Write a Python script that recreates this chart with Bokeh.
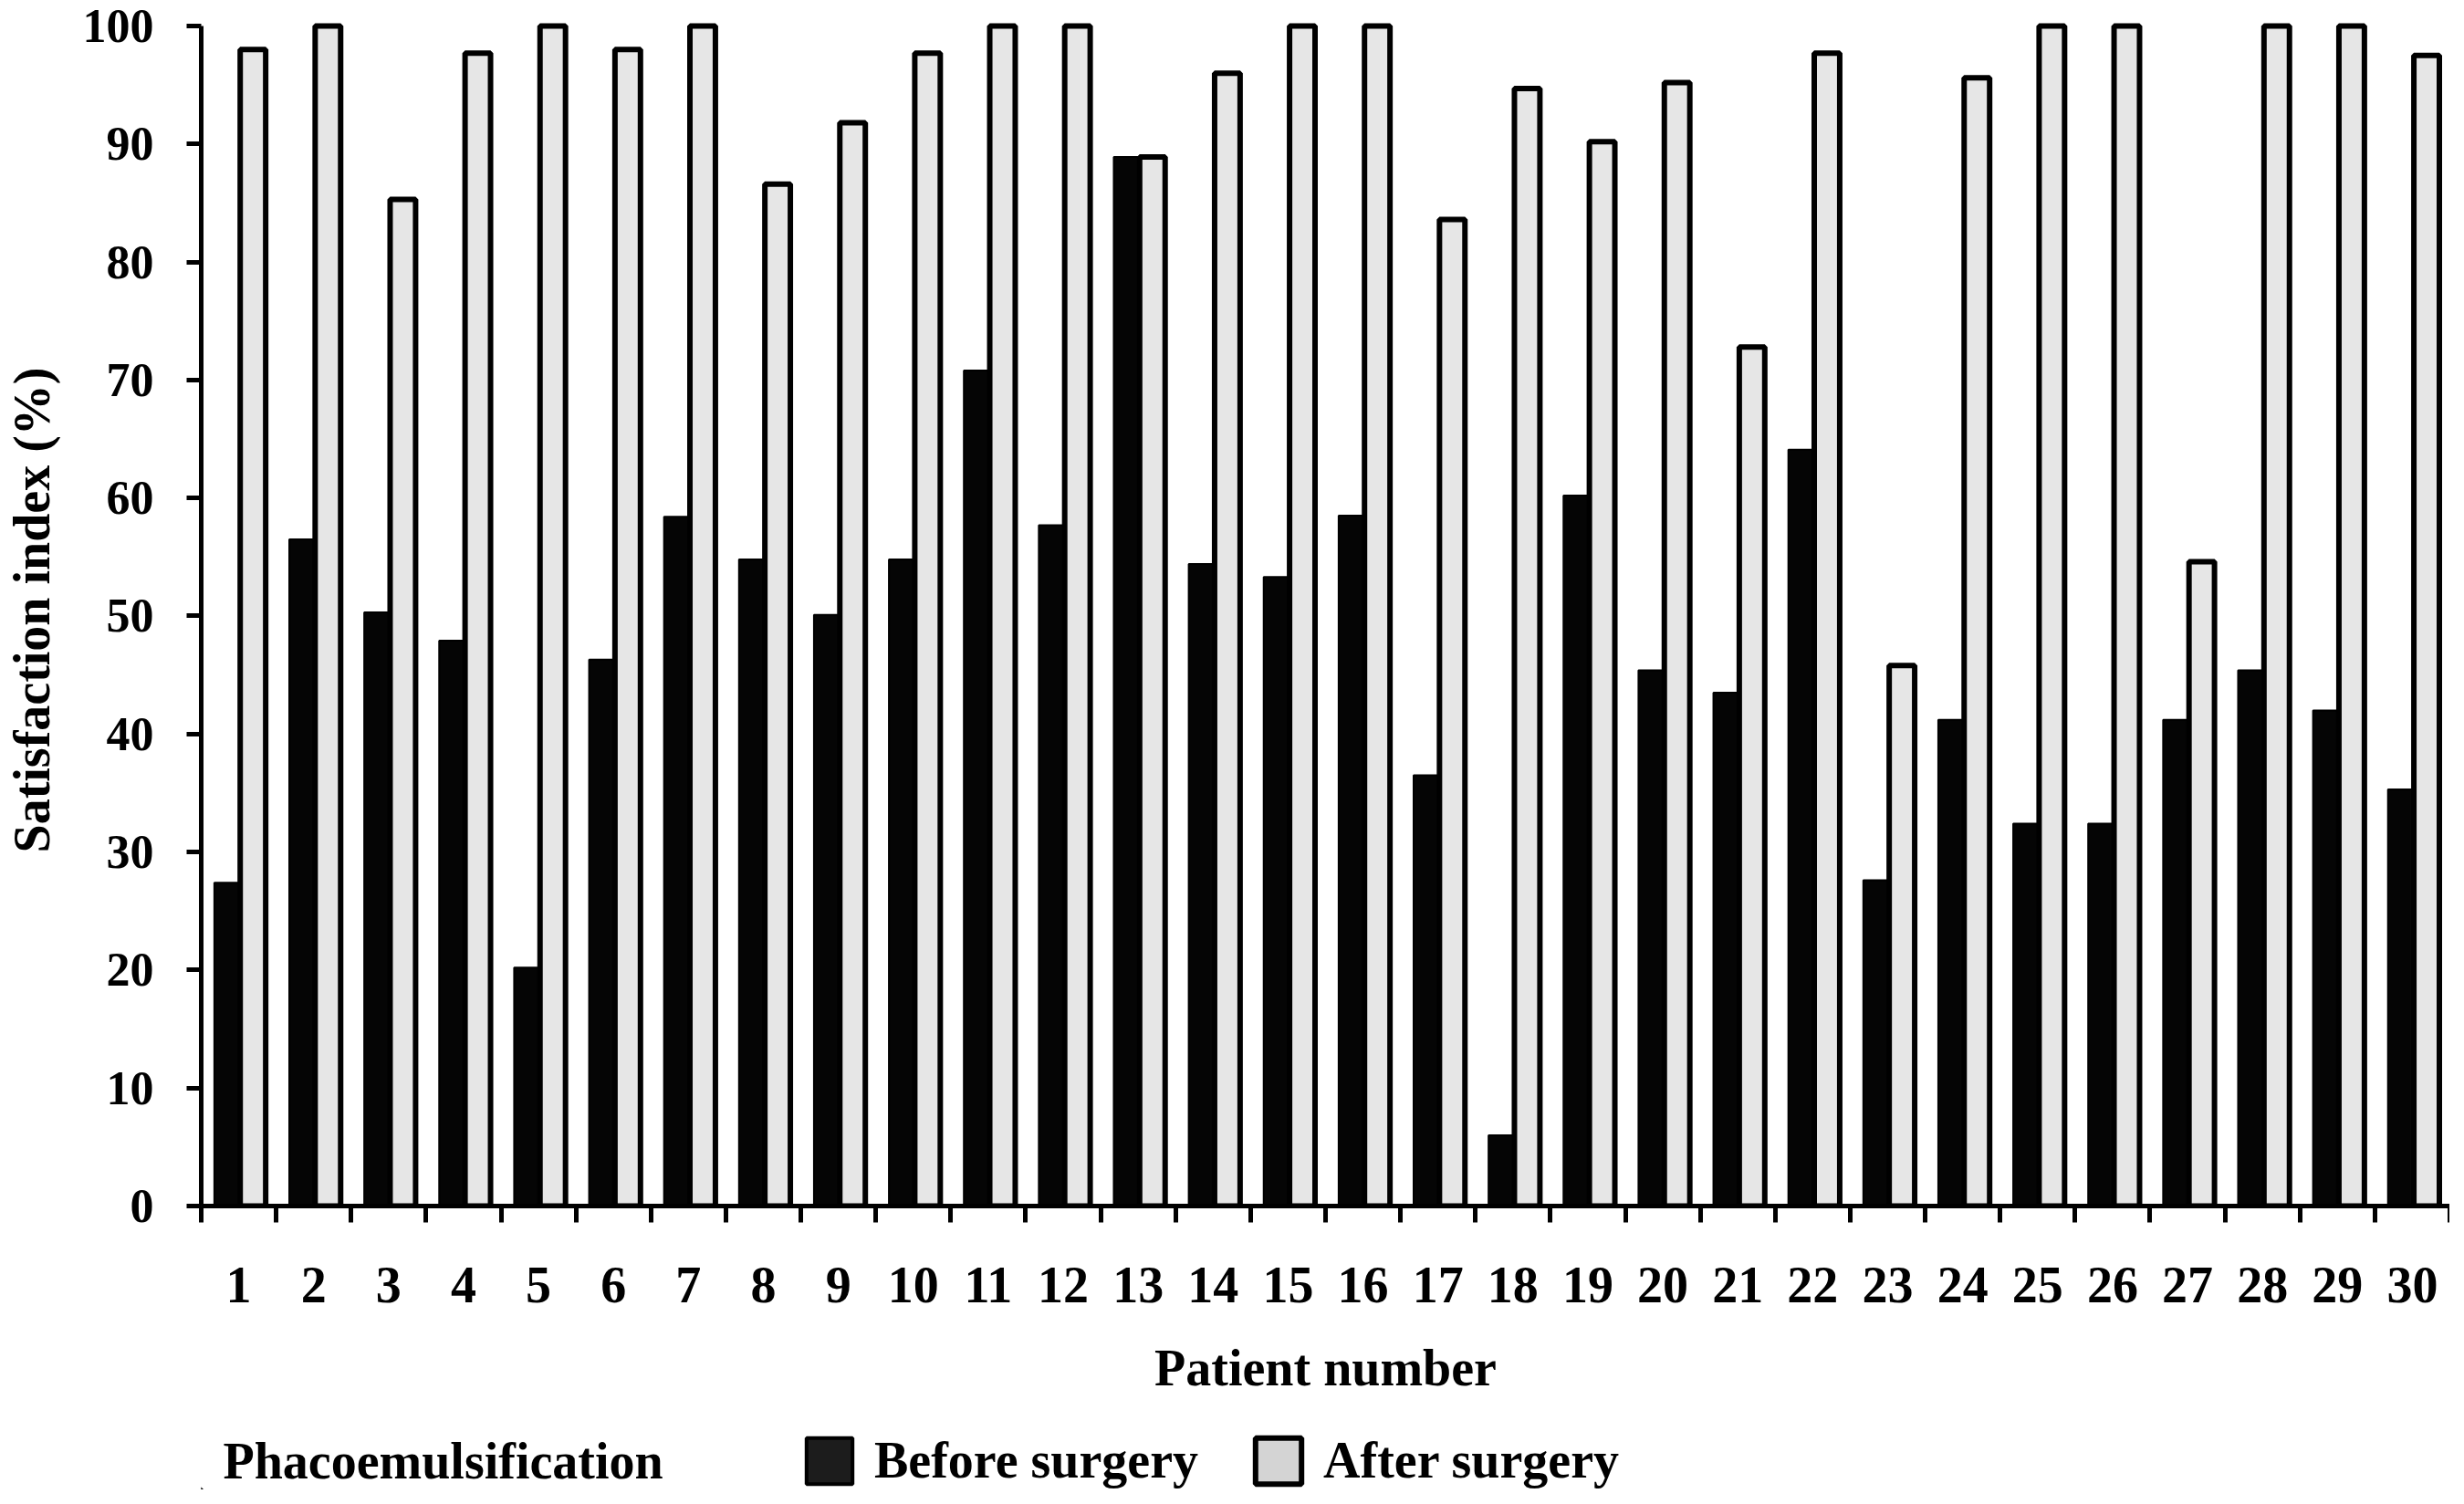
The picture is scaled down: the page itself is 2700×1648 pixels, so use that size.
from bokeh.plotting import figure
from bokeh.layouts import column
from bokeh.models import ColumnDataSource, Range1d, FixedTicker, Legend, LegendItem, Label
from bokeh.transform import dodge
from bokeh.embed import file_html
from bokeh.resources import INLINE

# ---- data -------------------------------------------------------------
patients = list(range(1, 31))
tick_labels = [str(i) for i in patients]
before_surgery = [27.4, 56.5, 50.3, 47.9, 20.2, 46.3, 58.4, 54.8, 50.1, 54.8,
                  70.8, 57.7, 88.9, 54.4, 53.3, 58.5, 36.5, 6.0, 60.2, 45.4,
                  43.5, 64.1, 27.6, 41.2, 32.4, 32.4, 41.2, 45.4, 42.0, 35.3]
after_surgery = [98.0, 100.0, 85.3, 97.7, 100.0, 98.0, 100.0, 86.6, 91.8, 97.7,
                 100.0, 100.0, 88.9, 96.0, 100.0, 100.0, 83.6, 94.7, 90.2, 95.2,
                 72.8, 97.7, 45.8, 95.6, 100.0, 100.0, 54.6, 100.0, 100.0, 97.5]
y_ticks = list(range(0, 101, 10))
group_edges = [i + 0.5 for i in range(0, 31)]
series_names = ["Before surgery", "After surgery"]
legend_title = "Phacoemulsification"

FONT = "Liberation Serif"
FS = "56px"
W = 2684
H_MAIN = 1560
H_LEG = 72

src = ColumnDataSource(dict(patient=patients, before=before_surgery, after=after_surgery))

p = figure(width=W, height=H_MAIN, output_backend="svg", toolbar_location=None,
           x_range=Range1d(0.5, 30.5), y_range=Range1d(0, 101),
           min_border_left=218, min_border_right=0, min_border_top=15,
           min_border_bottom=H_MAIN - 1321, background_fill_color="white",
           border_fill_color="white")
p.outline_line_color = None
p.xgrid.visible = False
p.ygrid.visible = False

p.vbar(x=dodge('patient', -0.155), top='before', bottom=0, width=0.34,
       source=src, fill_color="#050505", line_color="#000000", line_width=2)
p.vbar(x=dodge('patient', 0.19), top='after', bottom=0, width=0.34,
       source=src, fill_color="#e6e6e6", line_color="#000000", line_width=6)

# x axis
xa = p.xaxis[0]
xa.ticker = FixedTicker(ticks=patients, minor_ticks=group_edges)
xa.major_label_overrides = {pt: lab for pt, lab in zip(patients, tick_labels)}
xa.major_tick_line_color = None
xa.major_tick_out = 18
xa.major_tick_in = 0
xa.minor_tick_out = 18
xa.minor_tick_in = 0
xa.minor_tick_line_width = 5
xa.minor_tick_line_color = "black"
xa.axis_line_width = 5
xa.axis_line_color = "black"
xa.major_label_standoff = 49
xa.major_label_text_font = FONT
xa.major_label_text_font_style = "bold"
xa.major_label_text_font_size = FS
xa.major_label_text_color = "black"
xa.axis_label = "Patient number"
xa.axis_label_standoff = 38
xa.axis_label_text_font = FONT
xa.axis_label_text_font_style = "bold"
xa.axis_label_text_font_size = FS
xa.axis_label_text_color = "black"

# y axis
ya = p.yaxis[0]
ya.ticker = FixedTicker(ticks=y_ticks)
ya.bounds = (0, 100)
ya.major_tick_out = 16
ya.major_tick_in = 0
ya.major_tick_line_width = 5
ya.major_tick_line_color = "black"
ya.minor_tick_line_color = None
ya.axis_line_width = 5
ya.axis_line_color = "black"
ya.major_label_standoff = 36
ya.major_label_text_font = FONT
ya.major_label_text_font_style = "bold"
ya.major_label_text_font_size = "52px"
ya.major_label_text_color = "black"
ya.axis_label = "Satisfaction index (%)"
ya.axis_label_standoff = 22
ya.axis_label_text_font = FONT
ya.axis_label_text_font_style = "bold"
ya.axis_label_text_font_size = FS
ya.axis_label_text_color = "black"

# ---- legend strip ------------------------------------------------------
q = figure(width=W, height=H_LEG, output_backend="svg", toolbar_location=None,
           x_range=Range1d(0, 1), y_range=Range1d(0, 1),
           x_axis_location=None, y_axis_location=None,
           min_border_left=218, min_border_right=0, min_border_top=0,
           min_border_bottom=0,
           background_fill_color="white", border_fill_color="white")
q.outline_line_color = None
q.grid.visible = False

# legend proxies: one point each, placed well outside the visible range
proxy = ColumnDataSource(dict(x=[-10.0], top=[-5.0], bottom=[-6.0]))
lb = q.vbar(x='x', top='top', bottom='bottom', width=0.1, source=proxy,
            fill_color="#1c1c1c", line_color="#000000", line_width=4)
la = q.vbar(x='x', top='top', bottom='bottom', width=0.1, source=proxy,
            fill_color="#d4d4d4", line_color="#000000", line_width=6)

legend = Legend(items=[LegendItem(label=series_names[0], renderers=[lb]),
                       LegendItem(label=series_names[1], renderers=[la])],
                orientation="horizontal", location=(657, 0),
                glyph_width=63, glyph_height=63, label_height=63,
                label_standoff=18, spacing=56, padding=0, margin=0,
                border_line_color=None, background_fill_alpha=0,
                label_text_font=FONT, label_text_font_style="bold",
                label_text_font_size=FS, label_text_color="black")
q.add_layout(legend)

q.add_layout(Label(x=24, y=31.5, x_units="screen", y_units="screen",
                   text=legend_title, text_font=FONT,
                   text_font_style="bold", text_font_size=FS,
                   text_color="black", text_baseline="middle"))

layout = column(p, q, spacing=0)
open("out.html", "w").write(file_html(layout, INLINE))
